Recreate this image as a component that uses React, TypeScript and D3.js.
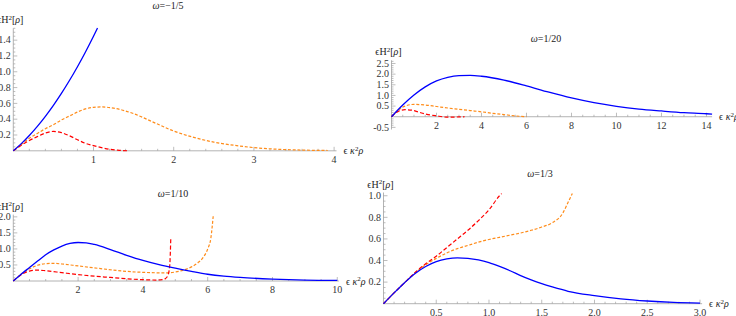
import React from 'react';
import * as d3 from 'd3';

type Pt = [number, number];

// ω = -1/5
const w1Blue: Pt[] = [[0,0],[0.1,0.091],[0.2,0.194],[0.3,0.309],[0.4,0.436],[0.5,0.575],[0.6,0.726],[0.7,0.889],[0.8,1.064],[0.9,1.251],[1.0,1.45],[1.05,1.554]];
const w1Orange: Pt[] = [[0,0],[0.1,0.08],[0.2,0.16],[0.3,0.22],[0.4,0.28],[0.5,0.33],[0.6,0.39],[0.7,0.44],[0.8,0.49],[0.9,0.53],[1.0,0.55],[1.1,0.555],[1.25,0.54],[1.5,0.47],[1.75,0.36],[2.0,0.25],[2.25,0.17],[2.5,0.11],[2.75,0.07],[3.0,0.04],[3.25,0.022],[3.5,0.012],[3.75,0.006],[3.92,0.004]];
const w1Red: Pt[] = [[0,0],[0.1,0.07],[0.2,0.13],[0.3,0.18],[0.4,0.225],[0.5,0.245],[0.6,0.23],[0.7,0.19],[0.8,0.14],[0.9,0.095],[1.0,0.065],[1.1,0.04],[1.2,0.02],[1.3,0.008],[1.43,0]];

// ω = 1/20
const w2Blue: Pt[] = [[0,0],[0.5,0.55],[1,1.02],[1.5,1.4],[2,1.68],[2.5,1.85],[3,1.93],[3.5,1.94],[4,1.9],[5,1.72],[6,1.45],[7,1.15],[8,0.88],[9,0.66],[10,0.49],[11,0.36],[12,0.27],[13,0.19],[14,0.14],[14.25,0.12]];
const w2Orange: Pt[] = [[0,0],[0.3,0.3],[0.6,0.5],[1.0,0.58],[1.5,0.55],[2,0.48],[2.5,0.41],[3,0.35],[3.5,0.29],[4,0.23],[4.5,0.16],[5,0.1],[5.5,0.04],[6,0]];
const w2Red: Pt[] = [[0,0],[0.3,0.25],[0.6,0.33],[0.9,0.31],[1.2,0.22],[1.5,0.13],[2,0.04],[2.5,-0.02],[3,-0.01],[3.25,0]];

// ω = 1/10
const w3Blue: Pt[] = [[0,0],[0.25,0.22],[0.5,0.42],[0.75,0.62],[1,0.82],[1.25,0.97],[1.5,1.09],[1.75,1.17],[2,1.2],[2.25,1.19],[2.5,1.14],[3,0.98],[3.5,0.8],[4,0.64],[4.5,0.51],[5,0.4],[5.5,0.3],[6,0.21],[6.5,0.15],[7,0.11],[8,0.06],[9,0.03],[10,0.02]];
const w3Orange: Pt[] = [[0,0],[0.25,0.22],[0.5,0.38],[0.75,0.49],[1,0.54],[1.25,0.55],[1.5,0.53],[2,0.47],[2.5,0.41],[3,0.35],[3.5,0.3],[4,0.27],[4.5,0.255],[4.8,0.255],[5,0.28],[5.25,0.34],[5.5,0.44],[5.7,0.57],[5.85,0.72],[6,1.0],[6.1,1.35],[6.17,2.02]];
const w3Red: Pt[] = [[0,0],[0.25,0.2],[0.5,0.31],[0.75,0.34],[1,0.32],[1.5,0.26],[2,0.2],[2.5,0.15],[3,0.11],[3.5,0.07],[4,0.04],[4.4,0.03],[4.6,0.04],[4.7,0.08],[4.78,0.2],[4.83,0.5],[4.86,1.3]];

// ω = 1/3
const w4Blue: Pt[] = [[0,0],[0.1,0.1],[0.2,0.195],[0.3,0.28],[0.4,0.345],[0.5,0.39],[0.6,0.415],[0.7,0.425],[0.8,0.42],[0.9,0.405],[1.0,0.38],[1.1,0.345],[1.2,0.305],[1.3,0.26],[1.4,0.22],[1.5,0.185],[1.6,0.155],[1.75,0.115],[2.0,0.075],[2.25,0.045],[2.5,0.025],[2.75,0.012],[3.0,0.006]];
const w4Orange: Pt[] = [[0,0],[0.1,0.1],[0.2,0.195],[0.3,0.285],[0.4,0.36],[0.5,0.42],[0.6,0.47],[0.7,0.51],[0.8,0.54],[0.9,0.57],[1.0,0.595],[1.1,0.615],[1.2,0.635],[1.3,0.655],[1.4,0.68],[1.5,0.71],[1.6,0.75],[1.7,0.84],[1.75,0.94],[1.79,1.02]];
const w4Red: Pt[] = [[0,0],[0.1,0.1],[0.2,0.195],[0.3,0.29],[0.4,0.37],[0.5,0.44],[0.6,0.52],[0.7,0.6],[0.8,0.68],[0.9,0.77],[1.0,0.87],[1.1,1.0],[1.12,1.02]];

const titles = ['=−1/5', '=1/20', '=1/10', '=1/3'];
const xTicks1 = [1, 2, 3, 4];
const yTicks1 = [0.2, 0.4, 0.6, 0.8, 1.0, 1.2, 1.4];
const xTicks2 = [2, 4, 6, 8, 10, 12, 14];
const yTicks2 = [-0.5, 0.5, 1.0, 1.5, 2.0, 2.5];
const xTicks3 = [2, 4, 6, 8, 10];
const yTicks3 = [0.5, 1.0, 1.5, 2.0];
const xTicks4 = [0.5, 1.0, 1.5, 2.0, 2.5, 3.0];
const yTicks4 = [0.2, 0.4, 0.6, 0.8, 1.0];

const BLUE = '#0000ff';
const ORANGE = '#ff8c1a';
const RED = '#ff0000';
const AXIS = '#a0a0a0';
const FONT = "'Liberation Serif', 'Times New Roman', Times, serif";

interface PanelCfg {
  title: string;
  titleX: number;
  titleY: number;
  xDom: [number, number];
  xRange: [number, number];
  yDom: [number, number];
  yRange: [number, number];
  xTicks: number[];
  yTicks: number[];
  xMinor: number;
  yMinor: number;
  xFmt: (v: number) => string;
  yFmt: (v: number) => string;
  blue: Pt[];
  orange: Pt[];
  red: Pt[];
}

const f0 = (v: number) => d3.format('d')(v);
const f1 = (v: number) => d3.format('.1f')(v).replace('−', '-');

const panels: PanelCfg[] = [
  { title: titles[0], titleX: 168, titleY: 9, xDom: [0, 4.03], xRange: [13.3, 336.5], yDom: [0, 1.55], yRange: [150.8, 28.3], xTicks: xTicks1, yTicks: yTicks1, xMinor: 0.2, yMinor: 0.05, xFmt: f0, yFmt: f1, blue: w1Blue, orange: w1Orange, red: w1Red },
  { title: titles[1], titleX: 546, titleY: 42, xDom: [0, 14.25], xRange: [391.5, 712.1], yDom: [-0.6, 2.65], yRange: [129.5, 60.3], xTicks: xTicks2, yTicks: yTicks2, xMinor: 0.5, yMinor: 0.1, xFmt: f0, yFmt: f1, blue: w2Blue, orange: w2Orange, red: w2Red },
  { title: titles[2], titleX: 173, titleY: 197, xDom: [0, 10.05], xRange: [13.3, 338.9], yDom: [0, 2.07], yRange: [281, 214.6], xTicks: xTicks3, yTicks: yTicks3, xMinor: 0.5, yMinor: 0.1, xFmt: f0, yFmt: f1, blue: w3Blue, orange: w3Orange, red: w3Red },
  { title: titles[3], titleX: 540, titleY: 177, xDom: [0, 3.02], xRange: [383.5, 702.1], yDom: [0, 1.03], yRange: [303.7, 192.5], xTicks: xTicks4, yTicks: yTicks4, xMinor: 0.1, yMinor: 0.05, xFmt: f1, yFmt: f1, blue: w4Blue, orange: w4Orange, red: w4Red },
];

function minorTicks(dom: [number, number], step: number): number[] {
  const out: number[] = [];
  const start = Math.ceil(dom[0] / step);
  const end = Math.floor(dom[1] / step);
  for (let i = start; i <= end; i++) {
    const v = +(i * step).toFixed(6);
    if (Math.abs(v) > 1e-9) out.push(v);
  }
  return out;
}

function Panel({ c }: { c: PanelCfg }) {
  const x = d3.scaleLinear().domain(c.xDom).range(c.xRange);
  const y = d3.scaleLinear().domain(c.yDom).range(c.yRange);
  const line = d3.line<Pt>().x(d => x(d[0])).y(d => y(d[1])).curve(d3.curveMonotoneX);
  const x0 = x(0);
  const y0 = y(0);
  const isMajor = (v: number, arr: number[]) => arr.some(a => Math.abs(a - v) < 1e-6);
  return (
    <g>
      <text x={c.titleX} y={c.titleY} textAnchor="middle" fontFamily={FONT} fontSize={10} fill="#222">
        <tspan fontStyle="italic">ω</tspan>{c.title}
      </text>
      <line x1={c.xRange[0]} x2={c.xRange[1]} y1={y0} y2={y0} stroke={AXIS} strokeWidth={0.8} />
      <line x1={x0} x2={x0} y1={c.yRange[0]} y2={c.yRange[1]} stroke={AXIS} strokeWidth={0.8} />
      {minorTicks(c.xDom, c.xMinor).map((v, i) => (
        <line key={'xm' + i} x1={x(v)} x2={x(v)} y1={y0} y2={y0 - (isMajor(v, c.xTicks) ? 4 : 2)} stroke={AXIS} strokeWidth={0.7} />
      ))}
      {minorTicks(c.yDom, c.yMinor).map((v, i) => (
        <line key={'ym' + i} x1={x0} x2={x0 + (isMajor(v, c.yTicks) ? 4 : 2)} y1={y(v)} y2={y(v)} stroke={AXIS} strokeWidth={0.7} />
      ))}
      {c.xTicks.map((v, i) => (
        <text key={'xl' + i} x={x(v)} y={y0 + 12} textAnchor="middle" fontFamily={FONT} fontSize={10} fill="#333">{c.xFmt(v)}</text>
      ))}
      {c.yTicks.map((v, i) => (
        <text key={'yl' + i} x={x0 - 2.5} y={y(v) + 3.3} textAnchor="end" fontFamily={FONT} fontSize={10} fill="#333">{c.yFmt(v)}</text>
      ))}
      <text x={x0 - 3} y={c.yRange[1] - 5} textAnchor="middle" fontFamily={FONT} fontSize={10} fill="#222">
        ϵH<tspan dy={-3.5} fontSize={7}>2</tspan><tspan dy={3.5}>[</tspan><tspan fontStyle="italic">ρ</tspan>]
      </text>
      <text x={c.xRange[1] + 7} y={y0 + 3.5} textAnchor="start" fontFamily={FONT} fontSize={10} fill="#222">
        ϵ <tspan fontStyle="italic">κ</tspan><tspan dy={-3.5} fontSize={7}>2</tspan><tspan dy={3.5} fontStyle="italic">ρ</tspan>
      </text>
      <path d={line(c.orange) || ''} fill="none" stroke={ORANGE} strokeWidth={1.2} strokeDasharray="3,1.8" />
      <path d={line(c.red) || ''} fill="none" stroke={RED} strokeWidth={1.2} strokeDasharray="4,2.2" />
      <path d={line(c.blue) || ''} fill="none" stroke={BLUE} strokeWidth={1.3} />
    </g>
  );
}

export default function App() {
  return (
    <svg width={736} height={316} style={{ position: 'absolute', left: 0, top: 0, background: '#fff' }}>
      <rect width={736} height={316} fill="#fff" />
      {panels.map((c, i) => <Panel key={i} c={c} />)}
    </svg>
  );
}
